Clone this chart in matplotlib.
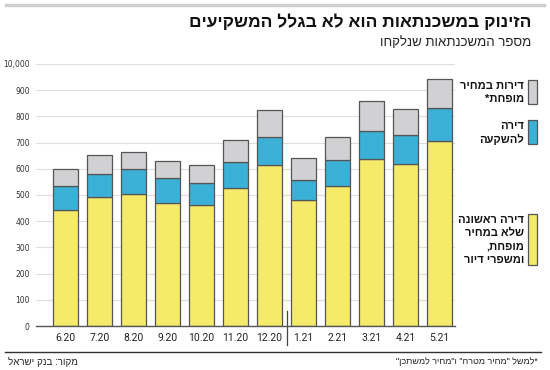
import matplotlib
matplotlib.use("Agg")
import matplotlib.pyplot as plt
from matplotlib.patches import Rectangle
import numpy as np

# נתונים (נקראו מהגרף)
months = ["6.20", "7.20", "8.20", "9.20", "10.20", "11.20", "12.20",
          "1.21", "2.21", "3.21", "4.21", "5.21"]
first_home = [444, 492, 504, 468, 463, 525, 616, 481, 536, 639, 620, 705]
investment = [92, 89, 95, 97, 81, 102, 107, 76, 99, 106, 108, 126]
reduced_price = [64, 72, 67, 65, 71, 82, 102, 86, 88, 115, 102, 113]

y_ticks = [0, 100, 200, 300, 400, 500, 600, 700, 800, 900, 1000]
y_tick_labels = ["0", "100", "200", "300", "400", "500", "600", "700",
                 "800", "900", "10,000"]

title = "הזינוק במשכנתאות הוא לא בגלל המשקיעים"
subtitle = "מספר המשכנתאות שנלקחו"
source = "מקור: בנק ישראל"
footnote = '*למשל "מחיר מטרה" ו"מחיר למשתכן"'
legend_labels = [
    ["דירות במחיר", "מופחת*"],
    ["דירה", "להשקעה"],
    ["דירה ראשונה", "שלא במחיר", "מופחת,", "ומשפרי דיור"],
]

YELLOW = "#F5EA6A"
BLUE = "#3BB1D8"
GRAY = "#D1D1D3"
EDGE = "#555555"
HEB = ["Liberation Sans", "DejaVu Sans"]

W, H = 550, 370


def rtl(s):
    # matplotlib אינו תומך ב-bidi, לכן הופכים את הסדר
    return s[::-1]


def fx(px):
    return px / W


def fy(py):
    return 1 - py / H


fig = plt.figure(figsize=(W / 100, H / 100), dpi=100)
fig.patch.set_facecolor("white")

ax = fig.add_axes([fx(36), fy(326), fx(455) - fx(36), fy(64) - fy(326)])

x = np.arange(len(months))
bw = 0.735
b1 = np.array(first_home)
b2 = b1 + np.array(investment)
ax.bar(x, first_home, bw, color=YELLOW, edgecolor=EDGE, linewidth=0.9, zorder=3)
ax.bar(x, investment, bw, bottom=b1, color=BLUE, edgecolor=EDGE, linewidth=0.9, zorder=3)
ax.bar(x, reduced_price, bw, bottom=b2, color=GRAY, edgecolor=EDGE, linewidth=0.9, zorder=3)

ax.set_xlim(-0.88, len(months) - 1 + 0.46)
ax.set_ylim(0, 1000)
ax.set_yticks(y_ticks)
ax.set_yticklabels(y_tick_labels, family=["Liberation Sans Narrow", "DejaVu Sans"],
                   fontsize=5.5, color="#333333")
ax.set_xticks(x)
ax.set_xticklabels(months, family="Roboto", fontsize=7.5, color="#222222")
ax.tick_params(axis="both", length=0)
ax.tick_params(axis="y", pad=4.5)
ax.tick_params(axis="x", pad=5)
ax.grid(axis="y", color="#DEDEDE", linewidth=0.8, zorder=0)
for side in ["top", "right", "left"]:
    ax.spines[side].set_visible(False)
ax.spines["bottom"].set_color("#555555")
ax.spines["bottom"].set_linewidth(1.0)
ax.spines["bottom"].set_zorder(4)

# קו הפרדה בין 2020 ל-2021
ax.axvline(6.5, ymin=-0.073, ymax=0.057, color="#444444", linewidth=0.9,
           clip_on=False)

# כותרות
fig.text(fx(531), fy(22), rtl(title), ha="right", va="center",
         fontsize=12.5, fontweight="bold", family=HEB, color="#111111")
fig.text(fx(531), fy(43), rtl(subtitle), ha="right", va="center",
         fontsize=9.5, family=HEB, color="#222222")

# מקרא
legend_colors = [GRAY, BLUE, YELLOW]
legend_tops = [80, 120, 214]
line_h = 13.3
for lines, color, top in zip(legend_labels, legend_colors, legend_tops):
    for i, line in enumerate(lines):
        fig.text(fx(524), fy(top + 6 + i * line_h), rtl(line), ha="right",
                 va="center", fontsize=8, fontweight="bold",
                 family=HEB, color="#111111")
    h = (len(lines) - 1) * line_h + 11
    fig.add_artist(Rectangle((fx(528), fy(top + h)), fx(9), h / H,
                             transform=fig.transFigure, facecolor=color,
                             edgecolor=EDGE, linewidth=0.9))

# קווים עליון ותחתון
fig.add_artist(plt.Line2D([fx(6), fx(544)], [fy(5), fy(5)], color="#CFCFCF",
                          linewidth=2.5, transform=fig.transFigure))
fig.add_artist(plt.Line2D([fx(5), fx(541)], [fy(352), fy(352)], color="#333333",
                          linewidth=1.0, transform=fig.transFigure))

fig.text(fx(8), fy(362), rtl(source), ha="left", va="center", fontsize=7,
         family=HEB, color="#222222")
fig.text(fx(538), fy(362), rtl(footnote), ha="right", va="center", fontsize=6.5,
         family=HEB, color="#222222")

fig.savefig("out.png", dpi=100)
